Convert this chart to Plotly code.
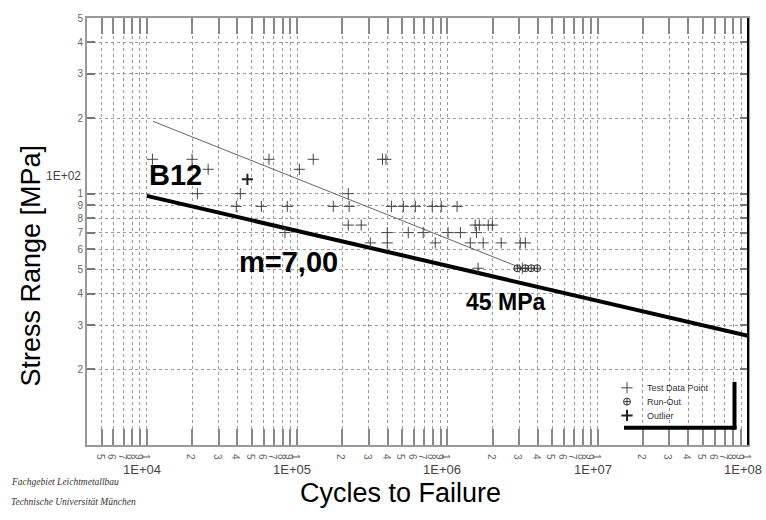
import numpy as np
import plotly.graph_objects as go

# ---------------- data ----------------
test_N = [1.09e4, 2.0e4, 6.5e4, 1.28e5, 3.7e5, 3.9e5,
          2.56e4, 1.035e5,
          2.17e4, 4.19e4, 2.19e5,
          3.94e4, 5.78e4, 8.6e4, 1.74e5, 2.22e5, 4.24e5, 5.09e5, 6.12e5, 7.93e5, 9.1e5, 1.16e6,
          2.19e5, 2.67e5, 1.53e6, 1.63e6, 1.87e6, 1.99e6,
          8.3e4, 3.98e5, 5.49e5, 6.9e5, 1.01e6, 1.22e6, 1.56e6,
          3.07e5, 3.98e5, 8.3e5, 1.42e6, 1.73e6, 2.28e6, 3.05e6, 3.3e6,
          1.6e6, 3.15e6]
test_S = [137, 137, 137, 137, 137, 137,
          125, 125,
          100, 100, 100,
          89, 89, 89, 89, 89, 89, 89, 89, 89, 89, 89,
          75, 75, 75, 75, 75, 75,
          70, 70, 70, 70, 70, 70, 70,
          63.7, 63.7, 63.7, 63.7, 63.7, 63.7, 63.7, 63.7,
          50.5, 50.5]

runout_N = [2.92e6, 3.3e6, 3.61e6, 3.96e6]
runout_S = [50.5, 50.5, 50.5, 50.5]

outlier_N = [4.67e4]
outlier_S = [114]

mean_N = [1.1e4, 3.05e6]
mean_S = [194, 50.8]

design_N = [1.0e4, 1.0e8]
design_S = [98, 27.2]

x_tickvals = [5e3, 6e3, 7e3, 8e3, 9e3,
              1e4, 2e4, 3e4, 4e4, 5e4, 6e4, 7e4, 8e4, 9e4,
              1e5, 2e5, 3e5, 4e5, 5e5, 6e5, 7e5, 8e5, 9e5,
              1e6, 2e6, 3e6, 4e6, 5e6, 6e6, 7e6, 8e6, 9e6,
              1e7, 2e7, 3e7, 4e7, 5e7, 6e7, 7e7, 8e7, 9e7, 1e8]
x_ticktext = ["5", "6", "7", "8", "9",
              "1", "2", "3", "4", "5", "6", "7", "8", "9",
              "1", "2", "3", "4", "5", "6", "7", "8", "9",
              "1", "2", "3", "4", "5", "6", "7", "8", "9",
              "1", "2", "3", "4", "5", "6", "7", "8", "9", "1"]
decade_vals = [1e4, 1e5, 1e6, 1e7, 1e8]
decade_text = ["1E+04", "1E+05", "1E+06", "1E+07", "1E+08"]

y_tickvals = [20, 30, 40, 50, 60, 70, 80, 90, 100, 200, 300, 400, 500]
y_ticktext = ["2", "3", "4", "5", "6", "7", "8", "9", "1", "2", "3", "4", "5"]

FONT = "Liberation Sans, Arial, sans-serif"


def px(xp):
    return (xp - 87) / 661


def py(yp):
    return (445 - yp) / 433


fig = go.Figure()

fig.add_trace(go.Scatter(x=mean_N, y=mean_S, mode="lines",
                         line=dict(color="#666666", width=1), showlegend=False,
                         hoverinfo="skip"))
fig.add_trace(go.Scatter(x=design_N, y=design_S, mode="lines",
                         line=dict(color="black", width=4), showlegend=False,
                         hoverinfo="skip"))
fig.add_trace(go.Scatter(x=test_N, y=test_S, mode="markers", name="Test Data Point",
                         legend="legend",
                         marker=dict(symbol="cross-thin", size=8,
                                     line=dict(color="#444444", width=1))))
fig.add_trace(go.Scatter(x=runout_N, y=runout_S, mode="markers", name="Run-Out",
                         legend="legend2",
                         marker=dict(symbol="circle-cross-open", size=7, color="#333333",
                                     line=dict(color="#333333", width=1))))
fig.add_trace(go.Scatter(x=outlier_N, y=outlier_S, mode="markers", name="Outlier",
                         legend="legend3",
                         marker=dict(symbol="cross-thin", size=8,
                                     line=dict(color="#222222", width=2))))

annotations = []
for v, t in zip(decade_vals, decade_text):
    annotations.append(dict(x=np.log10(v), y=py(470), xref="x", yref="paper", text=t,
                            showarrow=False, xshift=-5, xanchor="center", yanchor="middle",
                            font=dict(family=FONT, size=13, color="#444444")))
annotations += [
    dict(x=px(83), y=py(172), xref="paper", yref="paper", text="1E+02",
         showarrow=False, xanchor="right", yanchor="middle",
         font=dict(family=FONT, size=12, color="#444444")),
    dict(x=px(175), y=py(171), xref="paper", yref="paper", text="<b>B12</b>",
         showarrow=False, xanchor="center", yanchor="middle",
         font=dict(family=FONT, size=29, color="black")),
    dict(x=px(288), y=py(259), xref="paper", yref="paper", text="<b>m=7,00</b>",
         showarrow=False, xanchor="center", yanchor="middle",
         font=dict(family=FONT, size=29, color="black")),
    dict(x=px(505), y=py(300), xref="paper", yref="paper", text="<b>45 MPa</b>",
         showarrow=False, xanchor="center", yanchor="middle",
         font=dict(family=FONT, size=23, color="black")),
    dict(x=px(31), y=py(263), xref="paper", yref="paper",
         text="Stress Range [MPa]", textangle=-90, showarrow=False,
         xanchor="center", yanchor="middle",
         font=dict(family=FONT, size=27, color="black")),
    dict(x=px(400), y=py(494), xref="paper", yref="paper",
         text="Cycles to Failure", showarrow=False,
         xanchor="center", yanchor="middle",
         font=dict(family=FONT, size=27, color="black")),
    dict(x=px(9), y=py(483), xref="paper", yref="paper", xanchor="left", yanchor="middle",
         text="<i>Fachgebiet Leichtmetallbau</i>", showarrow=False,
         font=dict(family="Liberation Serif, serif", size=9.5, color="#333333")),
    dict(x=px(9), y=py(503), xref="paper", yref="paper", xanchor="left", yanchor="middle",
         text="<i>Technische Universität München</i>", showarrow=False,
         font=dict(family="Liberation Serif, serif", size=9.5, color="#333333")),
]

shapes = [
    dict(type="line", xref="paper", yref="paper", x0=1, x1=1, y0=0, y1=1,
         line=dict(color="black", width=2)),
    dict(type="line", xref="paper", yref="paper", x0=px(734.5), x1=px(734.5),
         y0=py(381), y1=py(429), line=dict(color="black", width=4)),
    dict(type="line", xref="paper", yref="paper", x0=px(624), x1=px(736.5),
         y0=py(427.5), y1=py(427.5), line=dict(color="black", width=4)),
]

leg_common = dict(xanchor="left", yanchor="middle", bgcolor="rgba(0,0,0,0)",
                  font=dict(family=FONT, size=9, color="#333333"), borderwidth=0)

fig.update_layout(
    width=766, height=520,
    margin=dict(l=87, r=18, t=12, b=75),
    paper_bgcolor="white", plot_bgcolor="white",
    font=dict(family=FONT, color="#555555"),
    showlegend=True,
    legend=dict(x=px(607), y=py(387), **leg_common),
    legend2=dict(x=px(607), y=py(401), **leg_common),
    legend3=dict(x=px(607), y=py(415), **leg_common),
    annotations=annotations,
    shapes=shapes,
)

fig.update_xaxes(type="log", range=[np.log10(4000), 8],
                 tickmode="array", tickvals=x_tickvals, ticktext=x_ticktext,
                 ticks="inside", ticklen=16, tickcolor="#888888", tickwidth=1.5,
                 showline=True, linecolor="#999999", linewidth=2, mirror="ticks",
                 showgrid=True, gridcolor="#999999", gridwidth=1, griddash="dot",
                 tickfont=dict(family=FONT, size=10, color="#666666"),
                 zeroline=False)
fig.update_yaxes(type="log", range=[1, np.log10(500)],
                 tickmode="array", tickvals=y_tickvals, ticktext=y_ticktext,
                 ticks="inside", ticklen=8, tickcolor="#777777", tickwidth=1.5,
                 showline=True, linecolor="#999999", linewidth=2, mirror="ticks",
                 showgrid=True, gridcolor="#999999", gridwidth=1, griddash="3px,3px",
                 tickfont=dict(family=FONT, size=10, color="#666666"),
                 zeroline=False)

fig.write_html("out.html")
